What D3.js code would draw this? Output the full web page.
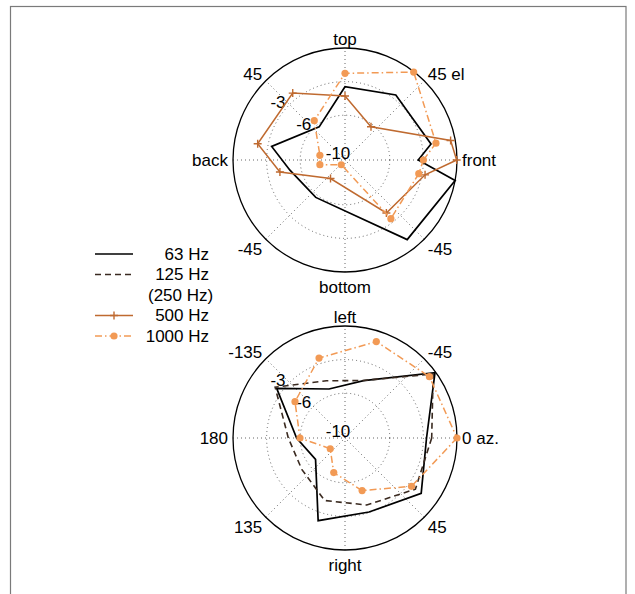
<!DOCTYPE html>
<html><head><meta charset="utf-8">
<script src="https://cdn.jsdelivr.net/npm/d3@7"></script>
<style>
body{margin:0;background:#fff}
text{font-family:"Liberation Sans",Arial,Helvetica,sans-serif;font-size:17px;fill:#000}
</style>
</head><body>
<svg id="c" width="635" height="594"></svg>
<script>
// ---------- data ----------
// Elevation plot (degrees, counter-clockwise from "front")
const elevAngles = [0, 10.5, 52, 90, 128, 169.5, -169.5, -128, -52, -10.5];
const elev63   = [-3.46, -2.19, -2.63, -3.46, -6.25, -3.34, -5.0, -5.76, -0.98, 0.0];
const elev500  = [-0.03, -0.41, -6.23, -4.29, -2.42, -2.07, -4.09, -7.9, -4.0, -2.73];
const elev1000 = [-3.0, -1.74, -0.04, -2.26, -5.54, -7.72, -7.72, -9.46, -3.35, -3.3];

// Azimuth plot (degrees, clockwise from 0 az.)
const azAngles = [0, 36, 72, 108, 144, 180, -144, -108, -72, -36];
const az63   = [-2.72, -1.59, -3.05, -2.24, -6.75, -5.68, -2.46, -5.40, -4.61, -0.07];
const az125  = [-2.26, -2.23, -3.71, -4.13, -5.23, -4.94, -2.29, -4.63, -4.6, -0.27];
const az1000 = [0.0, -2.66, -5.06, -6.75, -8.37, -5.98, -4.48, -2.5, -0.95, -0.68];

// angular tick labels
const elevTickAngles = [90, 45, 0, -45, -90, -135, 180, 135];
const elevTickLabels = ["top", "45 el", "front", "-45", "bottom", "-45", "back", "45"];
const azTickAngles = [-90, -45, 0, 45, 90, 135, 180, -135];
const azTickLabels = ["left", "-45", "0 az.", "45", "right", "135", "180", "-135"];

// radial ticks (dB)
const ringValues = [-3, -6];
const radialTickValues = [-3, -6, -10];
const radialTickLabels = ["-3", "-6", "-10"];
const radialDomain = [-10, 0];

// legend
const legendLabels = ["63 Hz", "125 Hz", "(250 Hz)", "500 Hz", "1000 Hz"];

// ---------- styles ----------
const C_BLACK = "#000000", C_125 = "#3a2a20", C_500 = "#bf6a30", C_1000 = "#f29a55";
const R = 112;
const svg = d3.select("#c");

// frame
svg.append("rect").attr("x", 10.5).attr("y", 6.5).attr("width", 615.5).attr("height", 620)
  .attr("fill", "none").attr("stroke", "#7a7a7a").attr("stroke-width", 1.2);

const r = d3.scaleLinear().domain(radialDomain).range([0, R]);

function polar(cx, cy, mathAngleFn, tickAngles, tickLabels, series) {
  const g = svg.append("g").attr("transform", `translate(${cx},${cy})`);
  const rad = d => d * Math.PI / 180;
  // grid rings
  g.selectAll(".ring").data(ringValues).join("circle")
    .attr("r", d => r(d)).attr("fill", "none")
    .attr("stroke", "#555").attr("stroke-width", 0.9).attr("stroke-dasharray", "1,3");
  // spokes every 45 deg
  g.selectAll(".spoke").data([0, 45, 90, 135]).join("line")
    .attr("x1", d => -R * Math.cos(rad(d))).attr("y1", d => R * Math.sin(rad(d)))
    .attr("x2", d => R * Math.cos(rad(d))).attr("y2", d => -R * Math.sin(rad(d)))
    .attr("stroke", "#555").attr("stroke-width", 0.9).attr("stroke-dasharray", "1,3");
  // outer circle
  g.append("circle").attr("r", R).attr("fill", "none").attr("stroke", "#000").attr("stroke-width", 1.3);
  // radial tick labels
  g.selectAll(".rt").data(radialTickValues).join("text")
    .attr("x", (d) => -r(d) * Math.cos(rad(40)) - 7)
    .attr("y", (d) => -r(d) * Math.sin(rad(40)) - 7)
    .attr("text-anchor", "middle").attr("dominant-baseline", "central")
    .text((d, i) => radialTickLabels[i]);
  // angular labels
  g.selectAll(".at").data(tickAngles).join("text")
    .each(function (d, i) {
      const m = rad(mathAngleFn(d));
      const c = Math.cos(m), s = Math.sin(m);
      d3.select(this)
        .attr("x", 117 * c).attr("y", -124 * s + 3 * Math.abs(s))
        .attr("text-anchor", c > 0.1 ? "start" : (c < -0.1 ? "end" : "middle"))
        .attr("dominant-baseline", "central")
        .text(tickLabels[i]);
    });
  // series
  series.forEach(s => {
    const pts = s.angles.map((a, i) => [rad(90 - mathAngleFn(a)), r(s.values[i])]);
    const line = d3.lineRadial().curve(d3.curveLinearClosed);
    g.append("path").attr("d", line(pts)).attr("fill", "none")
      .attr("stroke", s.color).attr("stroke-width", s.width)
      .attr("stroke-dasharray", s.dash || null).attr("stroke-linejoin", "miter");
    const xy = pts.map(p => [p[1] * Math.sin(p[0]), -p[1] * Math.cos(p[0])]);
    if (s.marker === "plus") {
      g.selectAll(null).data(xy).join("path")
        .attr("d", d => `M${d[0] - 4},${d[1]}H${d[0] + 4}M${d[0]},${d[1] - 4}V${d[1] + 4}`)
        .attr("stroke", s.color).attr("stroke-width", 1.4);
    } else if (s.marker === "dot") {
      g.selectAll(null).data(xy).join("circle")
        .attr("cx", d => d[0]).attr("cy", d => d[1]).attr("r", 3.6).attr("fill", s.color);
    }
  });
}

polar(345, 160, a => a, elevTickAngles, elevTickLabels, [
  { angles: elevAngles, values: elev63, color: C_BLACK, width: 1.7 },
  { angles: elevAngles, values: elev500, color: C_500, width: 1.5, marker: "plus" },
  { angles: elevAngles, values: elev1000, color: C_1000, width: 1.5, dash: "7,3,1.5,3", marker: "dot" }
]);

polar(345, 438, a => -a, azTickAngles, azTickLabels, [
  { angles: azAngles, values: az63, color: C_BLACK, width: 1.7 },
  { angles: azAngles, values: az125, color: C_125, width: 1.6, dash: "6,4" },
  { angles: azAngles, values: az1000, color: C_1000, width: 1.5, dash: "7,3,1.5,3", marker: "dot" }
]);

// legend
const legendStyles = [
  { color: C_BLACK, dash: null, marker: null },
  { color: C_125, dash: "6,4", marker: null },
  null,
  { color: C_500, dash: null, marker: "plus" },
  { color: C_1000, dash: "7,3,1.5,3", marker: "dot" }
];
const ly = d3.scaleLinear().domain([0, 4]).range([254, 336]);
const lg = svg.append("g");
legendLabels.forEach((lab, i) => {
  const y = ly(i), st = legendStyles[i];
  if (st) {
    lg.append("line").attr("x1", 95).attr("x2", 133).attr("y1", y).attr("y2", y)
      .attr("stroke", st.color).attr("stroke-width", 1.6).attr("stroke-dasharray", st.dash);
    if (st.marker === "plus") {
      lg.append("path").attr("d", `M110,${y}H118M114,${y - 4}V${y + 4}`).attr("stroke", st.color).attr("stroke-width", 1.4);
    } else if (st.marker === "dot") {
      lg.append("circle").attr("cx", 114).attr("cy", y).attr("r", 3.6).attr("fill", st.color);
    }
  }
  const paren = lab.startsWith("(");
  lg.append("text").attr("x", paren ? 148 : 209).attr("y", y)
    .attr("text-anchor", paren ? "start" : "end").attr("dominant-baseline", "central").text(lab);
});
</script>
</body></html>
